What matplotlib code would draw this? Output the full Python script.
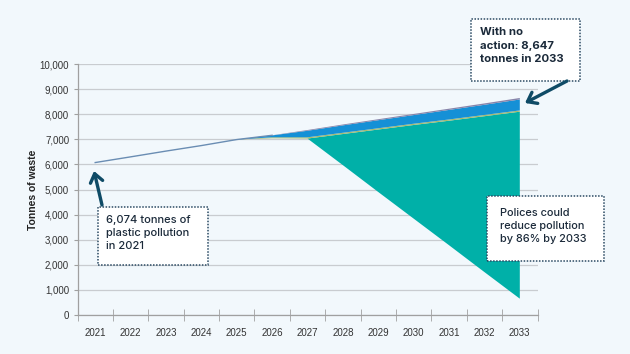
import matplotlib
matplotlib.use("Agg")
import matplotlib.pyplot as plt
from matplotlib.patches import Rectangle, FancyArrowPatch
import numpy as np

years = ["2021", "2022", "2023", "2024", "2025", "2026", "2027",
         "2028", "2029", "2030", "2031", "2032", "2033"]
# invisible base of the stack: what is left after policies
remaining = [6074, 6300, 6530, 6750, 6990, 7040, 7030, 5970, 4900, 3840, 2780, 1710, 650]
# reduction layers, bottom to top
teal_cut = [0, 0, 0, 0, 0, 0, 0, 1240, 2490, 3730, 4960, 6210, 7450]
olive_cut = [0, 0, 0, 0, 0, 40, 50, 50, 50, 50, 50, 50, 50]
blue_cut = [0, 0, 0, 0, 0, 75, 260, 295, 320, 345, 380, 405, 437]
purple_cut = [0, 0, 0, 0, 0, 5, 30, 35, 40, 45, 50, 55, 60]
history_line = [6074, 6300, 6530, 6750, 6990, 7160]
y_ticks = [0, 1000, 2000, 3000, 4000, 5000, 6000, 7000, 8000, 9000, 10000]

BG = "#f2f8fc"
NAVY = "#1b2a3a"
ARROW = "#0f4b66"
W, H = 630, 354

plt.rcParams["font.family"] = ["Liberation Sans", "DejaVu Sans"]

fig = plt.figure(figsize=(W / 100, H / 100), dpi=100, facecolor=BG)
ax = fig.add_axes([77.5 / W, 1 - 315 / H, (537.5 - 77.5) / W, (315 - 64) / H])
ax.set_facecolor(BG)

x = np.arange(len(years))
ax.stackplot(x, remaining, teal_cut, olive_cut, blue_cut, purple_cut,
             colors=["none", "#00b0a8", "#a8ba6e", "#1590d6", "#8784aa"],
             linewidth=0, zorder=3)
ax.plot(x[:len(history_line)], history_line, color="#6a8db3", lw=1.0, zorder=4)

ax.set_xlim(-0.5, len(years) - 0.5)
ax.set_ylim(0, 10000)
ax.set_yticks(y_ticks)
ax.set_yticklabels([f"{v:,}" for v in y_ticks])
ax.set_xticks(x)
ax.set_xticklabels(years)
ax.set_xticks(np.arange(-0.5, len(years)), minor=True)
ax.tick_params(axis="x", which="major", length=0, pad=9, labelsize=7, labelcolor="#333333")
ax.tick_params(axis="x", which="minor", length=8, direction="inout", color="#a0a0a0")
ax.tick_params(axis="y", length=3, color="#a0a0a0", labelsize=7, labelcolor="#333333", pad=3)

ax.grid(axis="y", color="#c9ccd0", lw=0.9, zorder=0)
for s in ["top", "right"]:
    ax.spines[s].set_visible(False)
for s in ["left", "bottom"]:
    ax.spines[s].set_color("#a0a0a0")
    ax.spines[s].set_linewidth(0.9)
ax.set_ylabel("Tonnes of waste", fontsize=7.5, fontweight="bold", color="#222222", labelpad=1.5)


def fpt(px, py):
    return px / W, 1 - py / H


def box(x0, y0, x1, y1, lines, tx, ty, size, weight, spacing):
    fig.add_artist(Rectangle(fpt(x0, y1), (x1 - x0) / W, (y1 - y0) / H,
                             transform=fig.transFigure, facecolor="white",
                             edgecolor="#2b4a63", lw=1.1, linestyle=(0, (1, 1)), zorder=5))
    fig.text(*fpt(tx, ty), lines, fontsize=size, fontweight=weight, color=NAVY,
             family=["Inter", "DejaVu Sans"], va="top", ha="left",
             linespacing=spacing, zorder=6)


box(98, 207, 208, 265, "6,074 tonnes of\nplastic pollution\nin 2021", 106, 215, 8.0, "medium", 1.4)
box(471, 19, 580, 81, "With no\naction: 8,647\ntonnes in 2033", 480, 27, 8.2, "bold", 1.45)
box(487, 196, 604, 261, "Polices could\nreduce pollution\nby 86% by 2033", 500, 208, 7.9, "medium", 1.4)

arrow_kw = dict(arrowstyle="->,head_length=0.6,head_width=0.45", color=ARROW, lw=2.4,
                shrinkA=0, shrinkB=0)
fig.add_artist(FancyArrowPatch(fpt(102, 205), fpt(94, 171), transform=fig.transFigure,
                               mutation_scale=10, zorder=7, **arrow_kw))
fig.add_artist(FancyArrowPatch(fpt(567, 81), fpt(525, 103), transform=fig.transFigure,
                               mutation_scale=10, zorder=7, **arrow_kw))

fig.savefig("out.png", dpi=100, facecolor=BG)
